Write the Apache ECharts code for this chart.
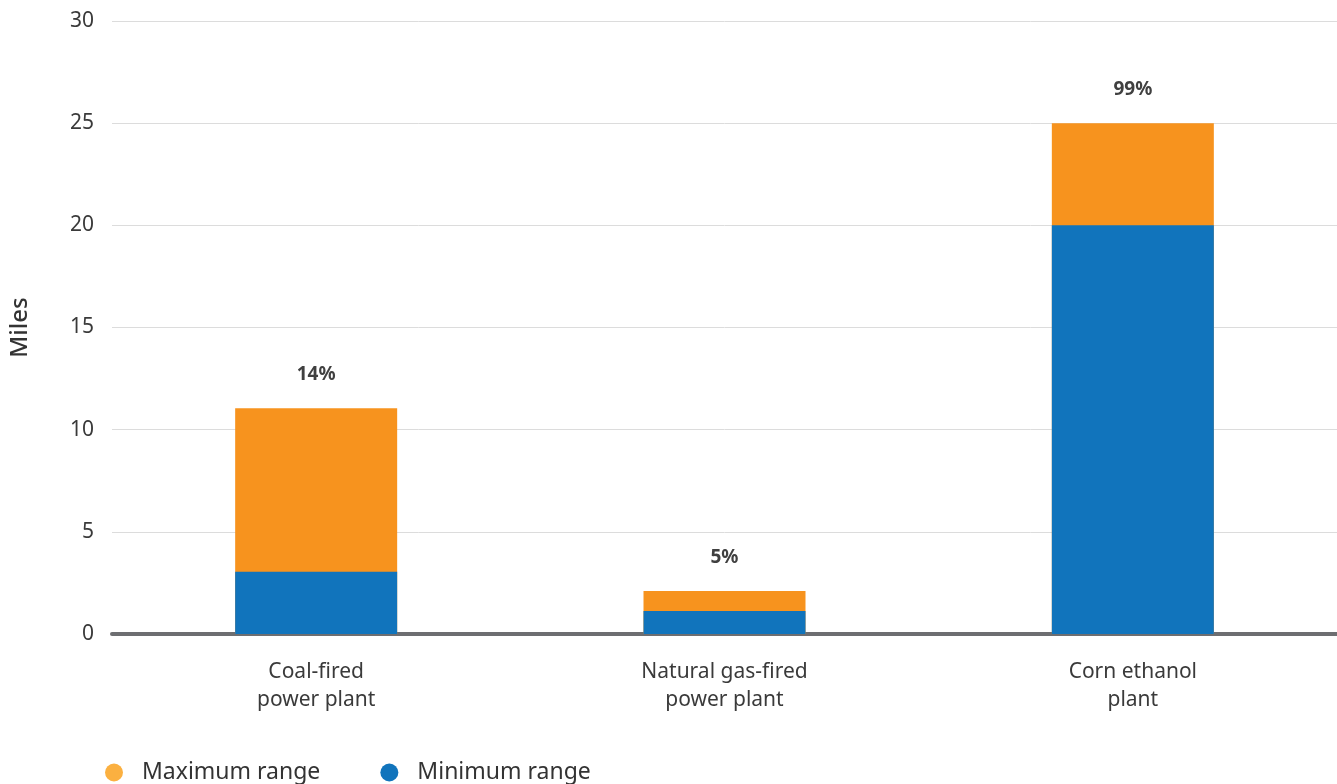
<!DOCTYPE html>
<html>
<head>
<meta charset="utf-8">
<script src="https://cdn.jsdelivr.net/npm/echarts@6/dist/echarts.min.js"></script>
<style>
html,body{margin:0;padding:0;background:#fff;}
#chart{width:1337px;height:784px;}
</style>
</head>
<body>
<div id="chart"></div>
<script>
const categories = ['Coal-fired\npower plant', 'Natural gas-fired\npower plant', 'Corn ethanol\nplant'];
const maximumRange = [11.05, 2.1, 25];
const minimumRange = [3.05, 1.12, 20];
const shareLabels = ['14%', '5%', '99%'];
const yTicks = [0, 5, 10, 15, 20, 25, 30];

const FONT = '"Noto Sans", sans-serif';
const chart = echarts.init(document.getElementById('chart'));
chart.setOption({
  animation: false,
  textStyle: { fontFamily: FONT },
  grid: { left: 112, right: 0, top: 21, bottom: 150 },
  legend: {
    left: 100, bottom: -5,
    icon: 'circle', itemWidth: 18, itemHeight: 18, itemGap: 60,
    textStyle: { fontSize: 23, color: '#333', fontFamily: FONT, padding: [0, 0, 0, 14] },
    data: [
      { name: 'Maximum range', itemStyle: { color: '#FBB040' } },
      { name: 'Minimum range', itemStyle: { color: '#1174BC' } }
    ]
  },
  xAxis: {
    type: 'category',
    data: categories,
    axisLine: { lineStyle: { color: '#6d6e71', width: 4 } },
    axisTick: { show: false },
    axisLabel: { interval: 0, fontSize: 21, lineHeight: 28, color: '#3a3a3a', margin: 24, fontFamily: FONT }
  },
  yAxis: {
    type: 'value',
    min: yTicks[0], max: yTicks[yTicks.length - 1], interval: 5,
    name: 'Miles', nameLocation: 'middle', nameRotate: 90, nameGap: 80,
    nameTextStyle: { fontSize: 24, color: '#333', fontWeight: 500, fontFamily: FONT },
    axisLine: { show: false }, axisTick: { show: false },
    splitLine: { lineStyle: { color: '#dcdcdc', width: 1 } },
    axisLabel: { fontSize: 21, color: '#3a3a3a', margin: 18, fontFamily: FONT }
  },
  series: [
    {
      name: 'Maximum range', type: 'bar', data: maximumRange,
      barWidth: 162, barGap: '-100%',
      itemStyle: { color: '#F7931E' },
      label: {
        show: true, position: 'top', distance: 24,
        formatter: p => shareLabels[p.dataIndex],
        fontSize: 19, fontWeight: 'bold', color: '#404040', fontFamily: FONT
      }
    },
    {
      name: 'Minimum range', type: 'bar', data: minimumRange,
      barWidth: 162, barGap: '-100%',
      itemStyle: { color: '#1174BC' }
    }
  ]
});
</script>
</body>
</html>
